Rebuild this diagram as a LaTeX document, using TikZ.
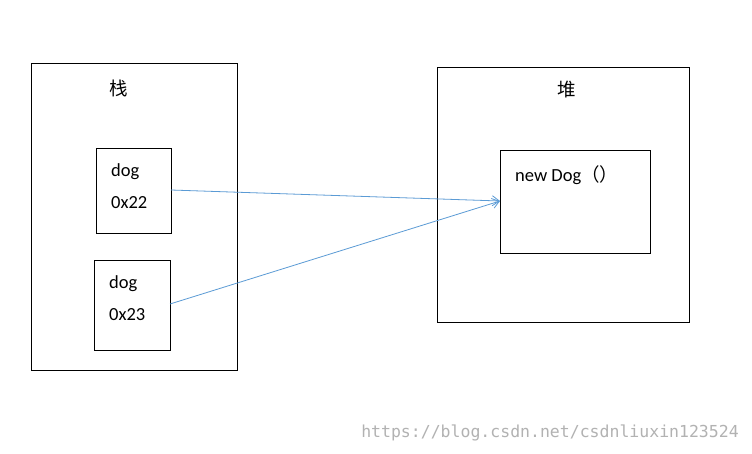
\documentclass[tikz,border=0pt]{standalone}
\usepackage{fontspec}
\setmainfont{Carlito}
\newfontfamily\cjk{Noto Sans CJK SC}
\newfontfamily\wm{DejaVu Sans Mono}
\usetikzlibrary{arrows.meta}
\definecolor{arrowblue}{RGB}{91,155,213}
\tikzset{box/.style={draw=black,line width=0.8pt},
 conn/.style={draw=arrowblue,line width=0.8pt,-{Straight Barb[length=7pt,width=10pt]}},
 lbl/.style={font=\fontsize{18.5}{20}\selectfont,inner sep=0pt}}
\begin{document}
\begin{tikzpicture}[x=1pt,y=-1pt]
\useasboundingbox[fill=white] (0,0) rectangle (752,453);
\draw[box] (31,63) rectangle (237,370);
\draw[box] (437,67) rectangle (689,322);
\draw[box] (96,148) rectangle (171,233);
\draw[box] (94,260) rectangle (170,350);
\draw[box] (500,150) rectangle (650,253);
\node[lbl] (zhan) at (119,88) {\cjk 栈};
\node[lbl] (dui) at (567,90) {\cjk 堆};
\node[lbl,anchor=west] (d1) at (111,172) {dog};
\node[lbl,anchor=west] (a1) at (111,203) {0x22};
\node[lbl,anchor=west] (d2) at (109,284) {dog};
\node[lbl,anchor=west] (a2) at (109,315) {0x23};
\node[lbl,anchor=west] (nd) at (515,175) {new Dog\cjk（）};
\node[inner sep=0pt,text=black!30,font=\wm\fontsize{16.5}{18}\selectfont] (wmk) at (550,433) {https://blog.csdn.net/csdnliuxin123524};
\coordinate (s1) at (171,190);
\coordinate (s2) at (170,304);
\coordinate (t) at (500,201);
\draw[conn] (s1) -- (t);
\draw[conn] (s2) -- (t);
\end{tikzpicture}
\end{document}
